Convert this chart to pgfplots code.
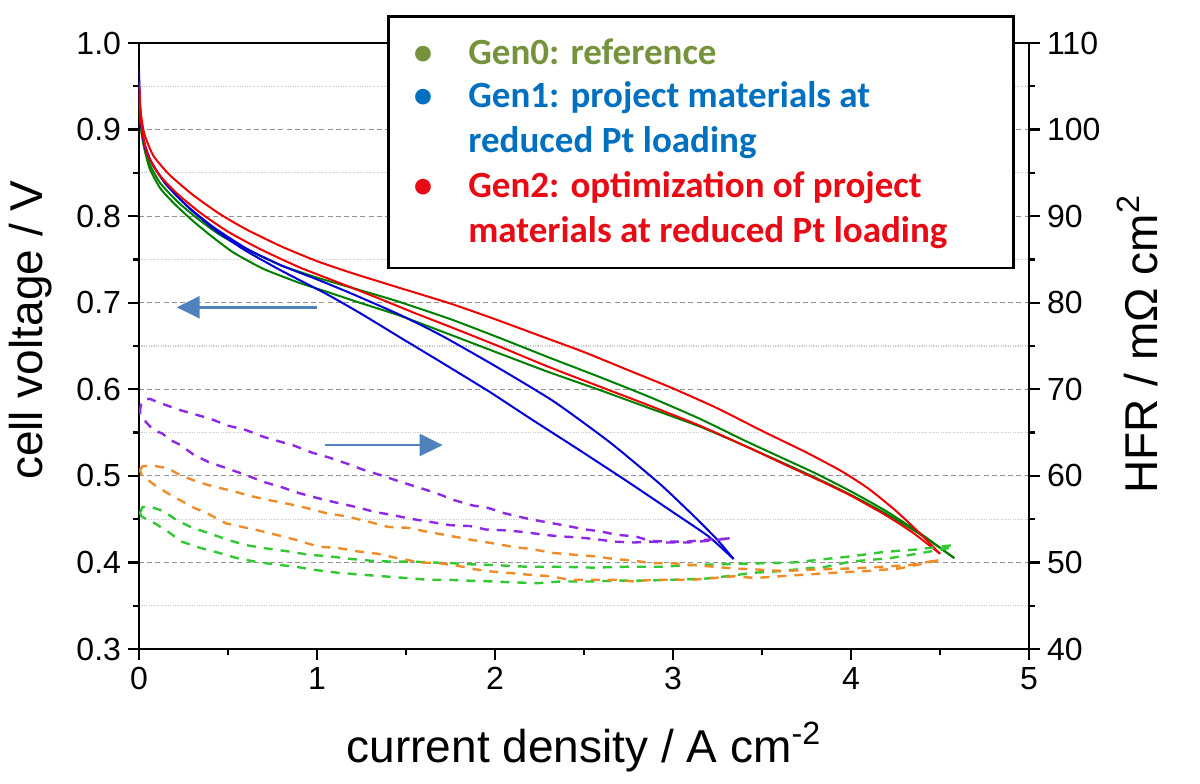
\documentclass[border=0pt]{standalone}
\usepackage{pgfplots}
\pgfplotsset{compat=1.18}
\usetikzlibrary{arrows.meta}
\usepackage{fontspec}
\setmainfont{Liberation Sans}
\newfontfamily\calibri{Carlito}
\definecolor{cGreen}{RGB}{0,128,0}
\definecolor{cBlue}{RGB}{0,0,215}
\definecolor{cRed}{RGB}{240,0,0}
\definecolor{cPurple}{RGB}{140,40,230}
\definecolor{cOrange}{RGB}{240,140,40}
\definecolor{cLime}{RGB}{50,200,50}
\definecolor{tGen0}{RGB}{118,146,60}
\definecolor{tGen1}{RGB}{0,112,192}
\definecolor{tGen2}{RGB}{232,10,20}
\definecolor{arrowblue}{RGB}{79,129,189}

\pgfplotsset{common/.style={
  scale only axis, width=445bp, height=303bp,
  at={(0,0)}, anchor=south west,
  xmin=0, xmax=5,
  tick align=outside,
  major tick length=5.5bp, minor tick length=3bp,
  axis line style={line width=1.2bp},
  tick style={line width=1.1bp, black},
  tick label style={font=\fontsize{16bp}{19bp}\selectfont},
  label style={font=\fontsize{23bp}{27bp}\selectfont},
  /pgf/number format/assume math mode=true,
},
solidc/.style={line width=1bp, smooth, tension=0.35},
dashc/.style={line width=1.2bp, dash pattern=on 4.5bp off 4bp}}

\begin{document}
\begin{tikzpicture}
\useasboundingbox (-69.5bp,-67.5bp) rectangle (530.5bp,324.5bp);

\begin{axis}[common,
  ymin=0.3, ymax=1.0,
  xtick={0,1,2,3,4,5}, minor xtick={0.5,1.5,2.5,3.5,4.5},
  ytick={0.3,0.4,0.5,0.6,0.7,0.8,0.9,1.0},
  minor ytick={0.35,0.45,0.55,0.65,0.75,0.85,0.95},
  xtick pos=bottom, ytick pos=left,
  yticklabel style={/pgf/number format/.cd, fixed, fixed zerofill, precision=1},
  ymajorgrids, yminorgrids,
  major grid style={gray!85, line width=0.6bp, dash pattern=on 2.5bp off 1.6bp},
  minor grid style={gray!40, line width=0.6bp, dash pattern=on 0.6bp off 0.6bp},
  xlabel={current density / A cm\textsuperscript{-2}},
  ylabel={cell voltage / V},
  xlabel style={at={(axis description cs:0.5,-0.1881)}, anchor=base},
  ylabel style={at={(axis description cs:-0.1079,0.526)}, anchor=base},
]
% Gen0 (green)
\addplot[cGreen, solidc] coordinates {
(0,0.935)(0.005,0.915)(0.015,0.895)(0.03,0.878)(0.06,0.855)(0.12,0.832)(0.2,0.814)(0.3,0.795)(0.4,0.778)(0.53,0.758)(0.7,0.739)(0.9,0.723)(1.05,0.713)(1.24,0.70)(1.466,0.685)(1.75,0.663)(2.03,0.641)(2.3,0.62)(2.59,0.599)(2.87,0.578)(3.15,0.557)(3.4,0.535)(3.65,0.512)(3.83,0.495)(4.0,0.478)(4.2,0.456)(4.4,0.431)(4.58,0.405)};
\addplot[cGreen, solidc] coordinates {
(4.58,0.405)(4.4,0.432)(4.2,0.459)(4.0,0.482)(3.8,0.503)(3.6,0.522)(3.4,0.541)(3.15,0.566)(2.87,0.591)(2.59,0.614)(2.3,0.637)(2.03,0.659)(1.75,0.681)(1.447,0.702)(1.2,0.717)(1.0,0.729)(0.8,0.743)(0.6,0.762)(0.45,0.779)(0.33,0.797)(0.22,0.816)(0.12,0.838)(0.06,0.86)(0.03,0.88)(0.01,0.905)(0,0.93)};
% Gen1 (blue)
\addplot[cBlue, solidc] coordinates {
(0,0.968)(0.005,0.93)(0.015,0.9)(0.04,0.875)(0.1,0.852)(0.2,0.826)(0.3,0.806)(0.44,0.782)(0.6,0.76)(0.8,0.737)(1.054,0.71)(1.25,0.687)(1.466,0.66)(1.7,0.631)(1.97,0.597)(2.2,0.566)(2.45,0.533)(2.74,0.494)(3.0,0.458)(3.2,0.43)(3.34,0.404)};
\addplot[cBlue, solidc] coordinates {
(3.34,0.404)(3.25,0.426)(3.12,0.453)(2.93,0.49)(2.65,0.538)(2.33,0.586)(2.0,0.627)(1.7,0.662)(1.466,0.686)(1.2,0.71)(1.0,0.727)(0.8,0.743)(0.6,0.763)(0.42,0.787)(0.28,0.81)(0.15,0.837)(0.07,0.862)(0.03,0.885)(0.01,0.91)(0.003,0.935)(0,0.96)};
% Gen2 (red)
\addplot[cRed, solidc] coordinates {
(0,0.95)(0.005,0.925)(0.02,0.895)(0.05,0.87)(0.12,0.846)(0.22,0.825)(0.35,0.803)(0.5,0.782)(0.68,0.762)(0.9,0.741)(1.1,0.725)(1.335,0.706)(1.55,0.688)(1.75,0.672)(2.03,0.649)(2.3,0.626)(2.59,0.603)(2.87,0.581)(3.15,0.558)(3.4,0.535)(3.65,0.511)(3.83,0.494)(4.0,0.477)(4.2,0.454)(4.35,0.434)(4.5,0.41)};
\addplot[cRed, solidc] coordinates {
(4.5,0.41)(4.38,0.435)(4.25,0.46)(4.1,0.485)(3.95,0.505)(3.75,0.527)(3.5,0.552)(3.25,0.578)(3.0,0.601)(2.75,0.622)(2.5,0.643)(2.25,0.662)(2.0,0.681)(1.75,0.699)(1.466,0.717)(1.2,0.734)(1.0,0.748)(0.8,0.765)(0.6,0.785)(0.45,0.803)(0.3,0.825)(0.17,0.848)(0.08,0.87)(0.03,0.895)(0.01,0.92)(0,0.955)};
\draw[arrowblue, line width=1.2bp, -{Triangle[length=11.5bp,width=11bp]}] (axis cs:1.0,0.6947) -- (axis cs:0.212,0.6947);
\draw[arrowblue, line width=1.2bp, -{Triangle[length=11.5bp,width=11bp]}] (axis cs:1.045,0.5356) -- (axis cs:1.706,0.5356);
\end{axis}

\begin{axis}[common,
  ymin=40, ymax=110,
  axis x line=none, axis y line*=right,
  ytick={40,50,60,70,80,90,100,110},
  minor ytick={45,55,65,75,85,95,105},
  ylabel={HFR / mΩ cm\textsuperscript{2}},
  ylabel style={at={(axis description cs:1.1449,0.503)}, anchor=base},
]
% HFR Gen0 (light green, dashed)
\addplot[cLime, dashc] coordinates {
(0.005,55.7)(0.02,56.4)(0.07,56.4)(0.14,55.9)(0.21,54.9)(0.30,54.0)(0.39,53.4)(0.50,52.6)(0.60,52.0)(0.72,51.6)(0.83,51.3)(0.95,50.9)(1.07,50.7)(1.19,50.4)(1.30,50.2)(1.41,50.1)(1.53,50.1)(1.64,50.0)(1.77,49.9)(1.84,49.8)(1.99,49.7)(2.18,49.5)(2.37,49.5)(2.55,49.4)(2.74,49.5)(2.93,49.5)(3.11,49.7)(3.30,49.8)(3.49,49.9)(3.68,50.0)(3.86,50.4)(4.0,50.7)(4.18,51.2)(4.37,51.5)(4.575,52.0)
(4.56,51.7)(4.40,51.1)(4.22,50.5)(4.0,50.1)(3.86,49.5)(3.75,49.3)(3.60,49.0)(3.45,48.8)(3.30,48.4)(3.17,48.1)(3.00,48.0)(2.85,47.9)(2.68,47.9)(2.55,47.8)(2.37,47.8)(2.24,47.6)(2.10,47.7)(1.99,47.8)(1.84,47.9)(1.73,48.0)(1.62,48.0)(1.50,48.2)(1.37,48.4)(1.24,48.6)(1.12,48.8)(1.00,49.1)(0.88,49.5)(0.75,49.8)(0.65,50.1)(0.55,50.5)(0.45,51.1)(0.34,51.7)(0.24,52.4)(0.16,53.6)(0.09,54.5)(0.015,55.3)(0.005,55.7)
};
% HFR Gen1 (purple, dashed)
\addplot[cPurple, dashc] coordinates {
(0.005,67.3)(0.01,68.2)(0.03,68.8)(0.06,68.9)(0.12,68.4)(0.23,67.6)(0.40,66.6)(0.50,65.8)(0.60,65.3)(0.70,64.5)(0.87,63.5)(0.97,62.7)(1.07,62.1)(1.17,61.4)(1.26,60.7)(1.37,60.0)(1.47,59.3)(1.58,58.6)(1.67,58.0)(1.77,57.2)(1.87,56.6)(1.96,56.3)(2.05,55.7)(2.13,55.3)(2.22,54.9)(2.33,54.5)(2.41,54.2)(2.51,53.8)(2.59,53.6)(2.68,53.2)(2.79,53.0)(2.87,52.5)(2.96,52.4)(3.08,52.4)(3.17,52.6)(3.26,52.7)(3.33,52.8)
(3.2,52.5)(3.08,52.3)(2.96,52.3)(2.87,52.4)(2.78,52.3)(2.67,52.4)(2.56,52.7)(2.46,52.9)(2.37,53.0)(2.27,53.2)(2.17,53.5)(2.06,53.7)(1.95,53.8)(1.86,54.2)(1.75,54.3)(1.63,54.7)(1.51,55.1)(1.42,55.5)(1.33,55.8)(1.22,56.4)(1.11,56.9)(1.01,57.4)(0.90,58.0)(0.80,58.7)(0.70,59.3)(0.60,60.1)(0.49,60.9)(0.39,61.6)(0.31,62.4)(0.23,63.6)(0.18,64.1)(0.13,64.9)(0.08,65.3)(0.04,66.2)(0.005,67.3)
};
% HFR Gen2 (orange, dashed)
\addplot[cOrange, dashc] coordinates {
(0.005,60.7)(0.02,61.1)(0.06,61.2)(0.10,61.1)(0.16,60.9)(0.23,60.1)(0.33,59.3)(0.43,58.7)(0.52,58.3)(0.62,57.7)(0.73,57.2)(0.83,56.8)(0.94,56.3)(1.05,55.7)(1.17,55.3)(1.29,54.7)(1.40,54.1)(1.51,54.0)(1.63,53.5)(1.74,53.1)(1.87,52.6)(1.99,52.2)(2.10,51.8)(2.22,51.5)(2.32,51.1)(2.44,50.9)(2.56,50.7)(2.67,50.4)(2.78,50.2)(2.89,49.9)(3.00,49.9)(3.11,49.7)(3.23,49.5)(3.34,49.3)(3.46,49.2)(3.62,49.0)(3.81,49.2)(4.00,49.3)(4.18,49.5)(4.33,49.7)(4.50,50.3)
(4.44,50.0)(4.27,49.3)(4.09,49.0)(3.90,48.8)(3.75,48.6)(3.60,48.4)(3.46,48.2)(3.34,48.4)(3.23,48.2)(3.11,48.0)(3.00,48.0)(2.89,48.0)(2.78,47.8)(2.67,48.0)(2.56,48.0)(2.42,48.0)(2.31,48.4)(2.18,48.6)(2.07,48.8)(1.95,49.0)(1.86,49.3)(1.82,49.5)(1.69,49.9)(1.58,50.0)(1.45,50.5)(1.34,51.0)(1.22,51.3)(1.11,51.7)(1.01,51.8)(0.90,52.5)(0.77,53.2)(0.67,53.7)(0.58,54.1)(0.49,54.5)(0.39,55.6)(0.31,56.3)(0.23,57.2)(0.16,58.0)(0.09,58.9)(0.015,60.1)(0.005,60.7)
};
\end{axis}

% legend box
\filldraw[fill=white, draw=black, line width=1.3bp] (124.7bp,190.5bp) rectangle (437.2bp,316.2bp);
\begin{scope}[every node/.style={inner sep=0pt, font=\calibri\bfseries\fontsize{18.5bp}{22bp}\selectfont}]
\node[anchor=base, text=tGen0] at (142bp,292bp) {•};
\node[anchor=base west, text=tGen0] at (164.5bp,292bp) {Gen0: reference};
\node[anchor=base, text=tGen1] at (142bp,270.5bp) {•};
\node[anchor=base west, text=tGen1] at (164.5bp,270.5bp) {Gen1: project materials at};
\node[anchor=base west, text=tGen1] at (164.5bp,248bp) {reduced Pt loading};
\node[anchor=base, text=tGen2] at (142bp,225.5bp) {•};
\node[anchor=base west, text=tGen2] at (164.5bp,225.5bp) {Gen2: optimization of project};
\node[anchor=base west, text=tGen2] at (164.5bp,203bp) {materials at reduced Pt loading};
\end{scope}
\end{tikzpicture}
\end{document}
